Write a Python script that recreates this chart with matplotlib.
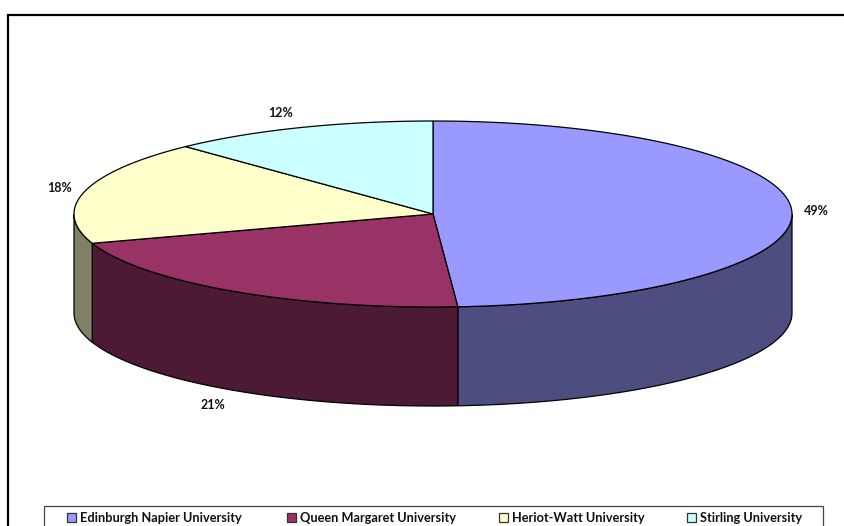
import numpy as np
import matplotlib
matplotlib.use('Agg')
import matplotlib.pyplot as plt
from matplotlib.patches import Polygon, Rectangle

universities = ['Edinburgh Napier University', 'Queen Margaret University', 'Heriot-Watt University', 'Stirling University']
shares = [48.9, 21, 18, 12.1]
top_colors = ['#9999FF', '#993366', '#FFFFCC', '#CCFFFF']
side_colors = ['#4D4D80', '#4D1A33', '#808066', '#668080']

plt.rcParams['font.family'] = ['Lato', 'DejaVu Sans']
plt.rcParams['font.weight'] = 'bold'

W, H = 844, 526
fig = plt.figure(figsize=(W / 100, H / 100), dpi=100)
ax = fig.add_axes([0, 0, 1, 1])
ax.set_xlim(0, W)
ax.set_ylim(H, 0)
ax.axis('off')

# pie geometry, in pixels
xc, yc = 433, 214
rx, ry = 359, 93
depth = 99


def pt(t):
    # t is the angle clockwise from the top
    return xc + rx * np.sin(t), yc - ry * np.cos(t)


edges = np.concatenate([[0], np.cumsum(shares)]) / sum(shares) * 2 * np.pi

# outer frame, cut off by the image at right and bottom
ax.plot([8, 8, W], [H, 15, 15], color='black', lw=1.6, solid_joinstyle='miter')

# side walls first, only the front half shows
for i in range(len(shares)):
    a = max(edges[i], np.pi / 2)
    b = min(edges[i + 1], 3 * np.pi / 2)
    if a >= b:
        continue
    t = np.linspace(a, b, 200)
    x, y = pt(t)
    verts = np.column_stack([np.r_[x, x[::-1]], np.r_[y, y[::-1] + depth]])
    ax.add_patch(Polygon(verts, closed=True, fc=side_colors[i], ec='black', lw=0.9))

# top of the pie
for i in range(len(shares)):
    t = np.linspace(edges[i], edges[i + 1], 200)
    x, y = pt(t)
    verts = np.column_stack([np.r_[xc, x], np.r_[yc, y]])
    ax.add_patch(Polygon(verts, closed=True, fc=top_colors[i], ec='black', lw=0.9))

# percent labels
label_pos = [(816, 211), (213, 405), (60, 188), (281, 113)]
for s, (lx, ly) in zip(shares, label_pos):
    ax.text(lx, ly, f'{s:.0f}%', ha='center', va='center', fontsize=9, color='#111111')

# legend box
ax.add_patch(Rectangle((44, 506), 779, 30, fc='white', ec='#444444', lw=0.9))
key_x = [67, 287, 499, 687]
for name, c, kx in zip(universities, top_colors, key_x):
    ax.add_patch(Rectangle((kx, 513), 9, 9, fc=c, ec='#333333', lw=0.9))
    ax.text(kx + 13, 517.5, name, ha='left', va='center', fontsize=9.2, color='#111111')

fig.savefig('out.png', dpi=100)
